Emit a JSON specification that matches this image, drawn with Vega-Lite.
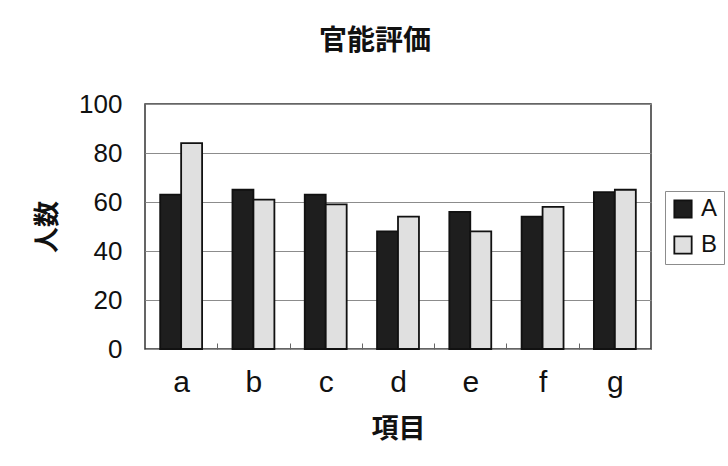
{
  "$schema": "https://vega.github.io/schema/vega-lite/v6.json",
  "width": 506,
  "height": 245,
  "autosize": {"type": "none"},
  "padding": {"left": 145, "top": 104, "right": 77, "bottom": 117},
  "background": "white",
  "title": {
    "text": "官能評価",
    "font": "Noto Sans CJK JP",
    "fontSize": 28,
    "fontWeight": "bold",
    "color": "#111111",
    "anchor": "middle",
    "dx": -23,
    "offset": 35
  },
  "data": {
    "values": [
      {"item": "a", "series": "A", "count": 63},
      {"item": "a", "series": "B", "count": 84},
      {"item": "b", "series": "A", "count": 65},
      {"item": "b", "series": "B", "count": 61},
      {"item": "c", "series": "A", "count": 63},
      {"item": "c", "series": "B", "count": 59},
      {"item": "d", "series": "A", "count": 48},
      {"item": "d", "series": "B", "count": 54},
      {"item": "e", "series": "A", "count": 56},
      {"item": "e", "series": "B", "count": 48},
      {"item": "f", "series": "A", "count": 54},
      {"item": "f", "series": "B", "count": 58},
      {"item": "g", "series": "A", "count": 64},
      {"item": "g", "series": "B", "count": 65}
    ]
  },
  "mark": {"type": "bar", "stroke": "#111111", "strokeWidth": 1.8},
  "encoding": {
    "x": {
      "field": "item",
      "type": "nominal",
      "scale": {"paddingInner": 0.42, "paddingOuter": 0.21},
      "axis": {
        "title": "項目",
        "titleFont": "Noto Sans CJK JP",
        "titleFontSize": 27,
        "titleFontWeight": "bold",
        "titleColor": "#111111",
        "titlePadding": 19,
        "labelFont": "Liberation Sans",
        "labelFontSize": 30,
        "labelColor": "#111111",
        "labelAngle": 0,
        "labelPadding": 24,
        "labelOffset": -36.15,
        "domain": false,
        "ticks": true,
        "tickBand": "center",
        "tickOffset": 36.15,
        "tickSize": -6,
        "tickColor": "#666666",
        "tickWidth": 1,
        "grid": false
      }
    },
    "xOffset": {"field": "series", "type": "nominal", "scale": {"paddingInner": 0, "paddingOuter": 0}},
    "y": {
      "field": "count",
      "type": "quantitative",
      "scale": {"domain": [0, 100], "nice": false},
      "axis": {
        "title": "人数",
        "titleFont": "Noto Sans CJK JP",
        "titleFontSize": 26,
        "titleFontWeight": "bold",
        "titleColor": "#111111",
        "titlePadding": 18,
        "values": [0, 20, 40, 60, 80, 100],
        "labelFont": "Liberation Sans",
        "labelFontSize": 26,
        "labelColor": "#111111",
        "labelPadding": 23,
        "ticks": false,
        "domain": false,
        "grid": true,
        "gridColor": "#8c8c8c",
        "gridWidth": 1
      }
    },
    "fill": {
      "field": "series",
      "type": "nominal",
      "scale": {"domain": ["A", "B"], "range": ["#1e1e1e", "#e0e0e0"]},
      "legend": {
        "title": null,
        "orient": "none",
        "legendX": 520,
        "legendY": 87,
        "symbolType": "square",
        "symbolSize": 300,
        "symbolStrokeColor": "#111111",
        "symbolStrokeWidth": 1.8,
        "labelFont": "Liberation Sans",
        "labelFontSize": 24,
        "labelColor": "#111111",
        "labelOffset": 6,
        "rowPadding": 10,
        "padding": 6,
        "strokeColor": "#8c8c8c",
        "fillColor": "white"
      }
    }
  },
  "config": {
    "view": {"stroke": "#333333", "strokeWidth": 1.5}
  }
}
